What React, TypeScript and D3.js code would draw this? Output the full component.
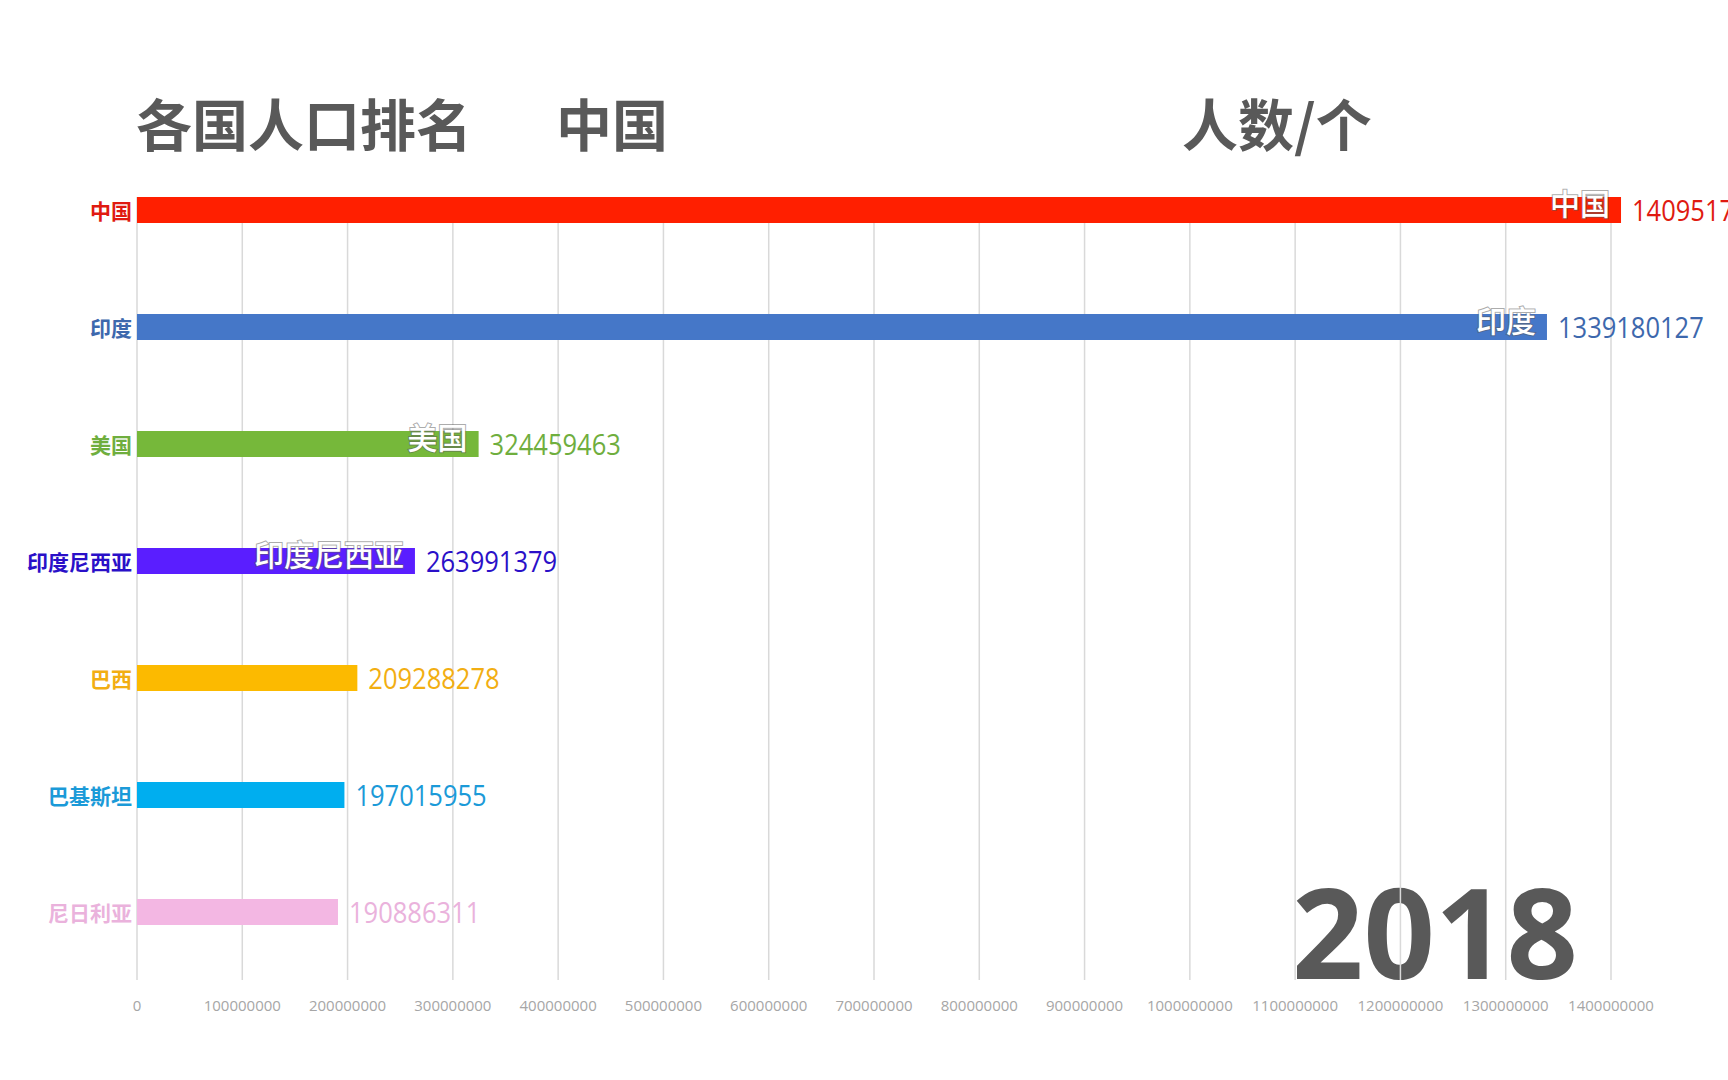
import React, { useEffect } from "react";
import * as d3 from "d3";

const year = "2018";
const countries = ["中国", "印度", "美国", "印度尼西亚", "巴西", "巴基斯坦", "尼日利亚"];
const population = [1409517397, 1339180127, 324459463, 263991379, 209288278, 197015955, 190886311];
const barColors = ["#ff1f00", "#4577c8", "#76b83a", "#5a1eff", "#fcba00", "#00aeef", "#f3b7e3"];
const textColors = ["#e01a10", "#3d68ad", "#6fae3e", "#2a10c8", "#f2ae12", "#1b9ad8", "#eab2dc"];
const innerLabeled = ["中国", "印度", "美国", "印度尼西亚"];
const xMax = 1400000000;

const W = 1728;
const H = 1080;
const cjk = '"Noto Sans CJK SC", "Noto Sans", sans-serif';
const latin = '"Open Sans", "Noto Sans", sans-serif';

export default function App() {
  useEffect(() => {
    document.body.style.margin = "0";
  }, []);

  const x = d3.scaleLinear().domain([0, xMax]).range([137, 1611]);
  const y = d3.scalePoint<string>().domain(countries).range([210, 912]);
  const barH = 26;
  const ticks = x.ticks(14);
  const fmt = d3.format("d");

  return (
    <svg width={W} height={H} style={{ display: "block", background: "#fff" }}>
      {/* titles */}
      <g fill="#595959" fontFamily={cjk} fontWeight={700} fontSize={56}>
        <text x={136} y={121} dominantBaseline="central">各国人口排名</text>
        <text x={556} y={121} dominantBaseline="central">中国</text>
        <text x={1182} y={121} dominantBaseline="central">人数/个</text>
      </g>

      {/* big year, gridlines drawn over it */}
      <text x={1578} y={979} textAnchor="end" fill="#595959" fontFamily={latin} fontWeight={700} fontSize={125}>
        {year}
      </text>

      <g>
        {ticks.map((t) => (
          <g key={t}>
            <line x1={x(t)} x2={x(t)} y1={197} y2={980} stroke="#d9d9d9" strokeWidth={1.5} />
            <text x={x(t)} y={1011} textAnchor="middle" fill="#a6a6a6" fontFamily={latin} fontSize={15}>
              {fmt(t)}
            </text>
          </g>
        ))}
      </g>

      {countries.map((c, i) => {
        const cy = y(c) as number;
        const x1 = x(population[i]);
        return (
          <g key={c}>
            <rect x={x(0)} y={cy - barH / 2} width={x1 - x(0)} height={barH} fill={barColors[i]} />
            <text x={132} y={cy} textAnchor="end" dominantBaseline="central" fill={textColors[i]}
              fontFamily={cjk} fontWeight={700} fontSize={21}>
              {c}
            </text>
            {innerLabeled.includes(c) && (
              <text x={x1 - 11} y={cy - 8} textAnchor="end" dominantBaseline="central" fill="#fff"
                stroke="rgba(90,90,90,0.5)" strokeWidth={2} paintOrder="stroke"
                fontFamily={cjk} fontWeight={500} fontSize={30}>
                {c}
              </text>
            )}
            <text transform={`translate(${x1 + 11},${cy}) scale(0.88,1)`} dominantBaseline="central"
              fill={textColors[i]} fontFamily={latin} fontSize={29}>
              {population[i]}
            </text>
          </g>
        );
      })}
    </svg>
  );
}
